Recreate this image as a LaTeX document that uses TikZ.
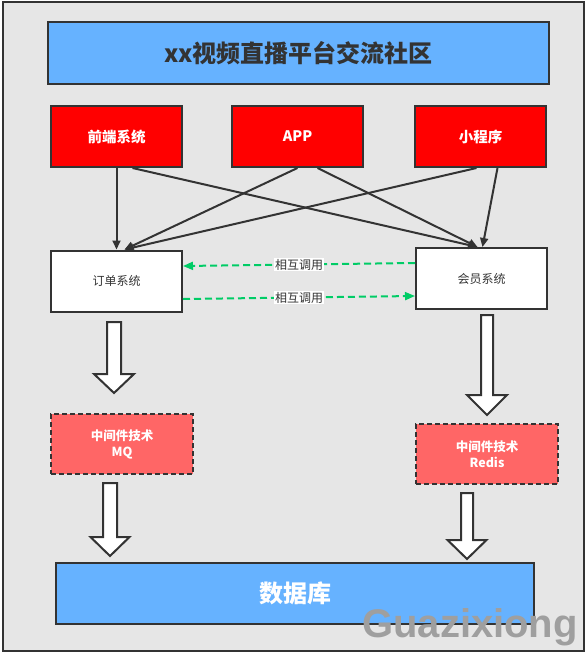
\documentclass[tikz,border=0pt]{standalone}
\usepackage{fontspec}
\setmainfont{Noto Sans CJK SC}
\newfontfamily\wmfont{Liberation Sans}
\usepackage{tikz}
\usetikzlibrary{arrows.meta, positioning}

\definecolor{frameback}{HTML}{E6E6E6}
\definecolor{lineclr}{HTML}{333333}
\definecolor{boxblue}{HTML}{66B2FF}
\definecolor{boxred}{HTML}{FF0000}
\definecolor{boxpink}{HTML}{FF6666}
\definecolor{callgreen}{HTML}{00CC66}

% one white block arrow: x, top, head base, tip, half shaft, half head
\newcommand{\blockarrow}[6]{%
  \draw[bigarrow] (#1-#5,#2) -- (#1+#5,#2) -- (#1+#5,#3) -- (#1+#6,#3) -- (#1,#4)
    -- (#1-#6,#3) -- (#1-#5,#3) -- cycle;}

\begin{document}
\begin{tikzpicture}[x=1pt, y=-1pt,
    box/.style={draw=lineclr, line width=2pt, minimum width=131pt, minimum height=61pt, inner sep=0pt},
    client/.style={box, fill=boxred, text=white, font=\fontsize{14.5}{16}\selectfont\bfseries},
    service/.style={box, fill=white, text=lineclr, font=\fontsize{12}{14}\selectfont},
    middle/.style={box, fill=boxpink, dash pattern=on 5pt off 3pt, minimum width=142pt, minimum height=60pt,
        text=white, align=center, font=\fontsize{12.5}{16}\selectfont\bfseries},
    feed/.style={draw=lineclr, line width=2pt, -{Triangle[length=9pt, width=8pt]}},
    call/.style={draw=callgreen, line width=2pt, dash pattern=on 7pt off 4pt,
        -{Triangle[length=10pt, width=8pt]}},
    calltext/.style={fill=white, inner sep=1pt, text=lineclr, font=\fontsize{12}{13}\selectfont},
    bigarrow/.style={draw=lineclr, line width=2pt, fill=white, line join=miter}]
        \useasboundingbox (0,0) rectangle (587,656);
        \fill[white] (0,0) rectangle (587,656);
        \draw[draw=lineclr, line width=2.5pt, fill=frameback] (3,2) rectangle (584,651);
        
        % title and database
        \node[box, fill=boxblue, minimum width=501pt, minimum height=62pt, text=lineclr,
            font=\fontsize{24}{26}\selectfont\bfseries] (title) at (298.5,53) {xx视频直播平台交流社区};
        \node[box, fill=boxblue, minimum width=478pt, minimum height=61pt, text=white,
            font=\fontsize{24}{26}\selectfont\bfseries] (db) at (295,593.5) {数据库};
        
        % clients
        \node[client] (web) at (116.5,136.5) {前端系统};
        \node[client] (app) at (297.5,136.5) {APP};
        \node[client] (mini) at (480.5,136.5) {小程序};
        
        % services
        \node[service] (order) at (116.5,281) {订单系统};
        \node[service] (member) at (481.5,278.5) {会员系统};
        
        % middleware
        \node[middle] (mq) at (122,444) {中间件技术\\MQ};
        \node[middle] (redis) at (487,454) {中间件技术\\Redis};
        
        % client requests
        \draw[feed] (web.south) -- (order.north);
        \draw[feed] ([xshift=16pt]web.south) -- ([xshift=-4pt]member.north);
        \draw[feed] (app.south) -- ([xshift=8pt]order.north);
        \draw[feed] ([xshift=20pt]app.south) -- ([xshift=-4pt]member.north);
        \draw[feed] ([xshift=-4pt]mini.south) -- ([xshift=8pt]order.north);
        \draw[feed] ([xshift=17pt]mini.south) -- ([xshift=1pt]member.north);
        
        % calls between services
        \draw[call] ([yshift=15.5pt]member.west) -- node[calltext] {相互调用} ([yshift=15pt]order.east);
        \draw[call] ([yshift=-18pt]order.east) -- node[calltext] {相互调用} ([yshift=-17.5pt]member.east -| member.west);
        
        % block arrows down to middleware and database
        \blockarrow{114}{322}{374}{393}{7}{20}
        \blockarrow{487}{315}{395}{415}{6}{20}
        \blockarrow{110}{483}{537}{556}{7}{19.5}
        \blockarrow{467}{493}{540}{559}{6}{19.5}
        
        % watermark
        \node[text=gray!75, font=\wmfont\fontsize{40}{40}\selectfont\bfseries] (mark) at (470,627) {Guazixiong};
    \end{tikzpicture}
\end{document}
